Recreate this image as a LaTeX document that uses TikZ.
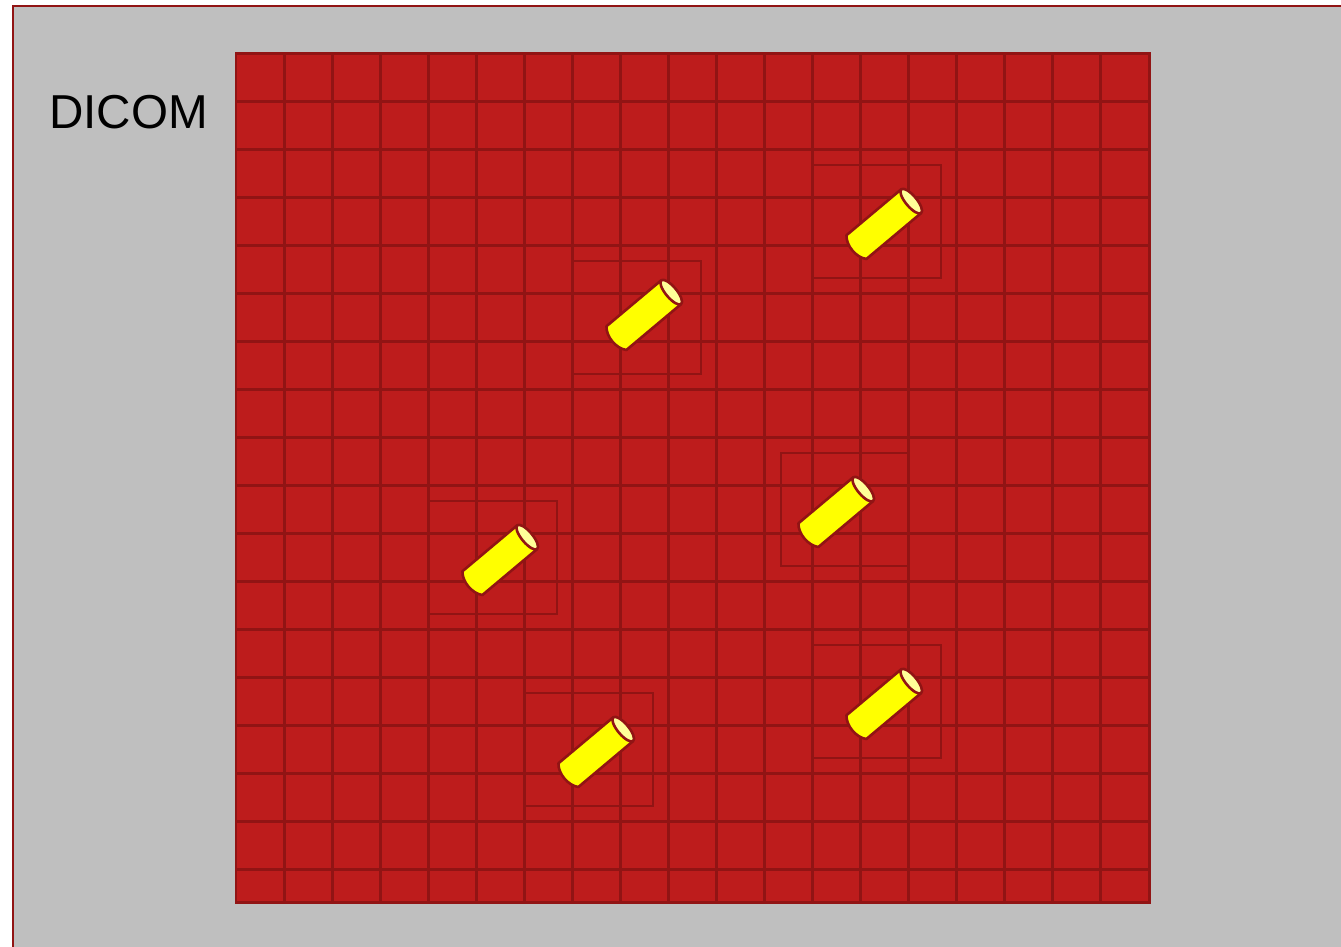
\documentclass[tikz,border=0pt]{standalone}
\usepackage{fontspec}
\setmainfont{Liberation Sans}
\definecolor{panelgray}{HTML}{BFBFBF}
\definecolor{dicomred}{HTML}{BD1C1C}
\definecolor{linered}{HTML}{911414}
\definecolor{seedyellow}{HTML}{FFFF00}
\definecolor{seedtop}{HTML}{FFFF99}
\tikzset{
  gridline/.style={linered, line width=2.8pt},
  roibox/.style={linered, line width=2pt},
  seedbody/.style={fill=seedyellow, draw=linered, line width=2.6pt, line join=round}
}
\newcommand{\seed}[2]{%
  \begin{scope}[shift={(#1,#2)}, rotate=40]
    \draw[seedbody] (35.5,15.5) -- (-36,15.5) .. controls (-43,8) and (-43,-8) .. (-36,-15.5) -- (35.5,-15.5);
    \draw[seedbody, fill=seedtop] (35.5,0) ellipse [x radius=5.5, y radius=15.5];
  \end{scope}
}
\begin{document}
\begin{tikzpicture}[x=1pt, y=1pt]
  \clip (0,0) rectangle (1341,947);
  % panel
  \draw[fill=panelgray, draw=linered, line width=2.6pt] (13,-10) rectangle (1360,941);
  \node[anchor=base west, inner sep=0pt, font=\fontsize{47.6}{52}\selectfont] (dicom) at (49,818.5) {DICOM};
  % image grid
  \fill[dicomred] (236,44.5) rectangle (1149.5,893.5);
  \foreach \col in {0,...,17}
    \draw[gridline] (284.5+48*\col,44.5) -- (284.5+48*\col,893.5);
  \foreach \row in {1,...,17}
    \draw[gridline] (236,893.5-48*\row) -- (1149.5,893.5-48*\row);
  \draw[gridline] (236,44.5) rectangle (1149.5,893.5);
  % regions
  \foreach \bx/\by in {813/669, 573/573, 781/381, 429/333, 525/141, 813/189}
    \draw[roibox] (\bx,\by) rectangle (\bx+128,\by+113);
  % seeds
  \foreach \sx/\sy in {884/723, 644/632, 836/435, 500/387, 596/195, 884/243}{
    \seed{\sx}{\sy}
  }
\end{tikzpicture}
\end{document}
